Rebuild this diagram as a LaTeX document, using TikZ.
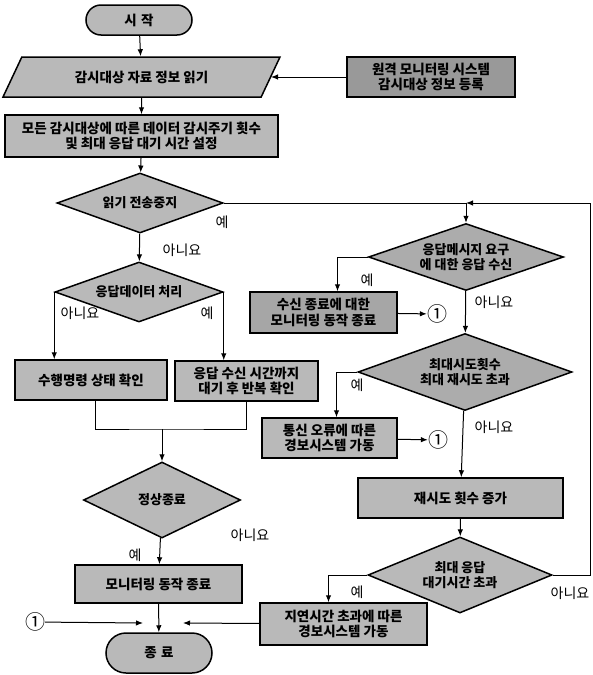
\documentclass[tikz,border=0pt]{standalone}
\usepackage{fontspec}
\setmainfont{Noto Sans CJK KR}
\usetikzlibrary{shapes.geometric,shapes.misc,arrows.meta}

\tikzset{
  box/.style={draw,line width=1.5pt,fill=gray!55,align=center,inner sep=1pt,
    font=\bfseries\fontsize{13.5}{15.5}\selectfont},
  term/.style={box,rounded rectangle},
  dec/.style={box,diamond,inner sep=0pt,aspect=2.9,
    font=\bfseries\fontsize{13}{15}\selectfont},
  io/.style={box,trapezium,trapezium left angle=38,trapezium right angle=142,
    trapezium stretches body=true},
  arr/.style={-{Latex[length=7pt,width=5.5pt]},line width=1pt},
  lbl/.style={font=\fontsize{14}{15}\selectfont,inner sep=0pt},
  circ/.style={font=\fontsize{20}{20}\selectfont,inner sep=0pt}
}

\begin{document}
\begin{tikzpicture}[x=1pt,y=-1pt]
\useasboundingbox (0,0) rectangle (592,675);

% left column
\node[term,minimum width=108pt,minimum height=30pt] (start) at (139,20) {시\,\,작};
\node[io,minimum width=277pt,minimum height=40pt] (read) at (141.5,77) {감시대상 자료 정보 읽기};
\node[box,fill=gray!80,minimum width=168pt,minimum height=40pt] (remote) at (431,77)
  {원격 모니터링 시스템\\감시대상 정보 등록};
\node[box,minimum width=273pt,minimum height=42pt] (setup) at (141.5,136)
  {모든 감시대상에 따른 데이터 감시주기 횟수\\및 최대 응답 대기 시간 설정};
\node[dec,minimum width=166pt,minimum height=60pt] (d1) at (140,203) {읽기 전송중지};
\node[dec,minimum width=168pt,minimum height=60pt] (d2) at (139,292) {응답데이터 처리};
\node[box,minimum width=152pt,minimum height=40pt] (ok) at (91,380) {수행명령 상태 확인};
\node[box,minimum width=143pt,minimum height=40pt] (wait) at (246.5,381)
  {응답 수신 시간까지\\대기 후 반복 확인};
\node[dec,minimum width=157pt,minimum height=76pt] (d3) at (162,500) {정상종료};
\node[box,minimum width=167pt,minimum height=38pt] (stop) at (158.5,584) {모니터링 동작 종료};
\node[term,minimum width=108pt,minimum height=40pt] (end) at (159,653) {종\,\,료};
\node[circ] (c1) at (35,622) {①};

% right column
\node[dec,fill=gray!65,minimum width=195pt,minimum height=67pt] (rd1) at (466,257)
  {응답메시지 요구\\에 대한 응답 수신};
\node[box,fill=gray!70,minimum width=147pt,minimum height=41pt] (rcv) at (323.5,312.5)
  {수신 종료에 대한\\모니터링 동작 종료};
\node[circ] (c2) at (437,314) {①};
\node[dec,fill=gray!65,minimum width=214pt,minimum height=77pt] (rd2) at (465,372)
  {최대시도횟수\\최대 재시도 초과};
\node[box,minimum width=135pt,minimum height=40pt] (err) at (329.5,438)
  {통신 오류에 따른\\경보시스템 가동};
\node[circ] (c3) at (438,440) {①};
\node[box,minimum width=205pt,minimum height=40pt] (retry) at (460.5,498) {재시도 횟수 증가};
\node[dec,minimum width=184pt,minimum height=76pt] (rd3) at (460,575)
  {최대 응답\\대기시간 초과};
\node[box,minimum width=167pt,minimum height=42pt] (alarm) at (343.5,624)
  {지연시간 초과에 따른\\경보시스템 가동};

% free ends and corners
\coordinate (inR) at (271,77);
\coordinate (joinT) at (466,203);
\coordinate (loopT) at (590,203);
\coordinate (loopB) at (590,575);
\coordinate (mid) at (162,429);
\coordinate (inL) at (143,623);
\coordinate (inRt) at (183,623);

% connectors
\draw[arr] (start) -- (read);
\draw[arr] (remote) -- (inR);
\draw[arr] (read) -- (setup);
\draw[arr] (setup) -- (d1);
\draw[arr] (d1) -- (d2);
\draw[line width=1pt] (d1.east) -- (joinT);
\draw[arr] (rd3.east) -- (loopB) -- (loopT) -- (joinT);
\draw[arr] (joinT) -- (rd1);
\draw[arr] (d2.west) -- (d2.west |- ok.north);
\draw[arr] (d2.east) -- (d2.east |- wait.north);
\draw[line width=1pt] ([xshift=4pt]ok.south) |- (mid) -| (wait.south);
\draw[arr] (mid) -- (d3);
\draw[arr] (d3) -- (stop);
\draw[arr] (stop) -- (end);
\draw[arr] (c1) -- (inL);
\draw[arr] (alarm) -- (inRt);
\draw[arr] (rd1.west) -| ([xshift=14pt]rcv.north);
\draw[arr] (rcv) -- (c2);
\draw[arr] (rd1) -- (rd2);
\draw[arr] (rd2.west) -| ([xshift=7pt]err.north);
\draw[arr] (err) -- (c3);
\draw[arr] (rd2) -- (retry);
\draw[arr] (retry) -- (rd3);
\draw[arr] (rd3.west) -| ([xshift=-15pt]alarm.north);

% yes / no labels
\node[lbl] (y1) at (222,222) {예};
\node[lbl] (n1) at (182,250) {아니요};
\node[lbl] (n2) at (80,313) {아니요};
\node[lbl] (y2) at (207,313) {예};
\node[lbl] (n3) at (250,535) {아니요};
\node[lbl] (y3) at (135,555) {예};
\node[lbl] (y4) at (367,280) {예};
\node[lbl] (n4) at (494,302) {아니요};
\node[lbl] (y5) at (357,385) {예};
\node[lbl] (n5) at (494,427) {아니요};
\node[lbl] (y6) at (357,592) {예};
\node[lbl] (n6) at (570,593) {아니요};
\end{tikzpicture}
\end{document}
